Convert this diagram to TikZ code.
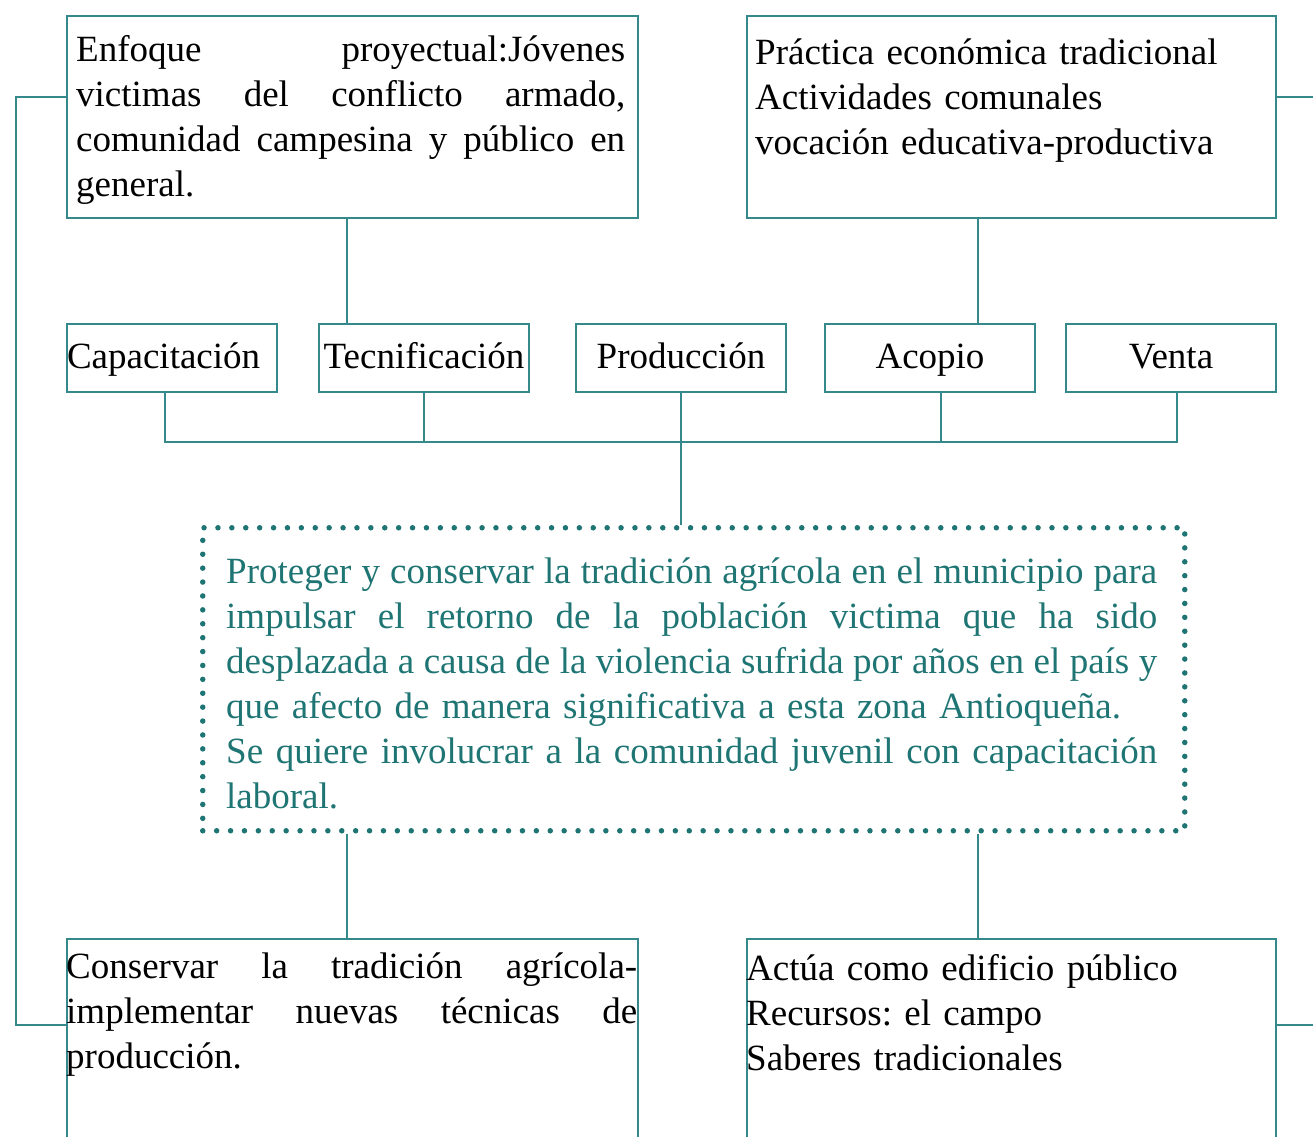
\documentclass[tikz,border=0pt]{standalone}
\usepackage{fontspec}
\setmainfont{Liberation Serif}
\definecolor{boxline}{HTML}{35898A}
\definecolor{tealtext}{HTML}{1E7573}
\newcommand\myfs{\fontsize{37}{45}\selectfont\frenchspacing}
\newcommand\jl[2]{\leavevmode\hbox to #1{\spaceskip=0.25em plus 4em minus 0.13em\relax #2}}
\newcommand\st{\leavevmode\rule{0pt}{29pt}}
\tikzset{
  box/.style={draw=boxline, line width=2pt, inner sep=0pt, anchor=north west},
  smallbox/.style={box, minimum width=210pt, minimum height=68pt, font=\myfs, text height=29pt, text depth=8pt},
  txt/.style={anchor=north west, inner sep=0pt, align=left, font=\myfs},
  conn/.style={draw=boxline, line width=2pt},
  dotbox/.style={draw=tealtext, line width=5.5pt, line cap=round, dash pattern=on 0pt off 13.9pt, inner sep=0pt, anchor=north west}
}
\begin{document}
\begin{tikzpicture}[x=1pt, y=-1pt]
\useasboundingbox (0,0) rectangle (1313,1136);
\clip (0,0) rectangle (1313,1136);
\fill[white] (0,0) rectangle (1313,1136);
% top boxes
\node[box, minimum width=571pt, minimum height=202pt] (tl) at (66,15) {};
\node[txt, text width=549pt] (tltext) at (76,32) {\st\jl{549pt}{Enfoque proyectual:Jóvenes}\\\jl{549pt}{victimas del conflicto armado,}\\\jl{549pt}{comunidad campesina y público en}\\general.};
\node[box, minimum width=529pt, minimum height=202pt] (tr) at (746,15) {};
\node[txt, text width=510pt] (trtext) at (755,35) {\st Práctica económica tradicional\\Actividades comunales\\vocación educativa-productiva};
% small boxes
\node[smallbox, text width=210pt, align=left] (cap) at (66,323) {Capacitación};
\node[smallbox] (tec) at (318,323) {Tecnificación};
\node[smallbox] (pro) at (575,323) {Producción};
\node[smallbox] (aco) at (824,323) {Acopio};
\node[smallbox] (ven) at (1065,323) {Venta};
% goal box
\node[dotbox, minimum width=982pt, minimum height=303pt] (goal) at (200,525) {};
\node[txt, text width=931pt, text=tealtext] (goaltext) at (226,554) {\st\jl{931pt}{Proteger y conservar la tradición agrícola en el municipio para}\\\jl{931pt}{impulsar el retorno de la población victima que ha sido}\\\jl{931pt}{desplazada a causa de la violencia sufrida por años en el país y}\\que afecto de manera significativa a esta zona Antioqueña.\\\jl{931pt}{Se quiere involucrar a la comunidad juvenil con capacitación}\\laboral.};
% bottom boxes
\node[box, minimum width=571pt, minimum height=215pt] (bl) at (66,938) {};
\node[txt, text width=571pt] (bltext) at (66,949) {\st\jl{571pt}{Conservar la tradición agrícola-}\\\jl{571pt}{implementar nuevas técnicas de}\\producción.};
\node[box, minimum width=529pt, minimum height=215pt] (br) at (746,938) {};
\node[txt, text width=529pt] (brtext) at (746,951) {\st Actúa como edificio público\\Recursos: el campo\\Saberes tradicionales};
% connectors
\draw[conn] (tl.south west) ++(281,0) coordinate (a1) -- (a1 |- tec.north);
\draw[conn] (tr.south west) ++(232,0) coordinate (a2) -- (a2 |- aco.north);
\coordinate (bus) at (679,442);
\draw[conn] ([xshift=-7pt]cap.south) coordinate (c1) -- (c1 |- bus) -- ([xshift=6pt]ven.south |- bus) -- ([xshift=6pt]ven.south);
\draw[conn] (tec.south) -- (tec.south |- bus);
\draw[conn] ([xshift=11pt]aco.south) coordinate (c4) -- (c4 |- bus);
\draw[conn] (pro.south) -- (pro.south |- goal.north);
\draw[conn] (goal.south west) ++(147,0) coordinate (g1) -- (g1 |- bl.north);
\draw[conn] (goal.south west) ++(778,0) coordinate (g2) -- (g2 |- br.north);
% left loop
\path (tl.north west) ++(0,82) coordinate (l1);
\path (bl.north west) ++(0,87) coordinate (l3);
\coordinate (l2) at (16,97);
\draw[conn] (l1) -- (l2) -- (l2 |- l3) -- (l3);
% right stubs
\path (tr.north east) ++(0,82) coordinate (r1);
\path (br.north east) ++(0,87) coordinate (r3);
\coordinate (re1) at (1316,97);
\coordinate (re3) at (1316,1025);
\draw[conn] (r1) -- (re1);
\draw[conn] (r3) -- (re3);
\end{tikzpicture}
\end{document}
